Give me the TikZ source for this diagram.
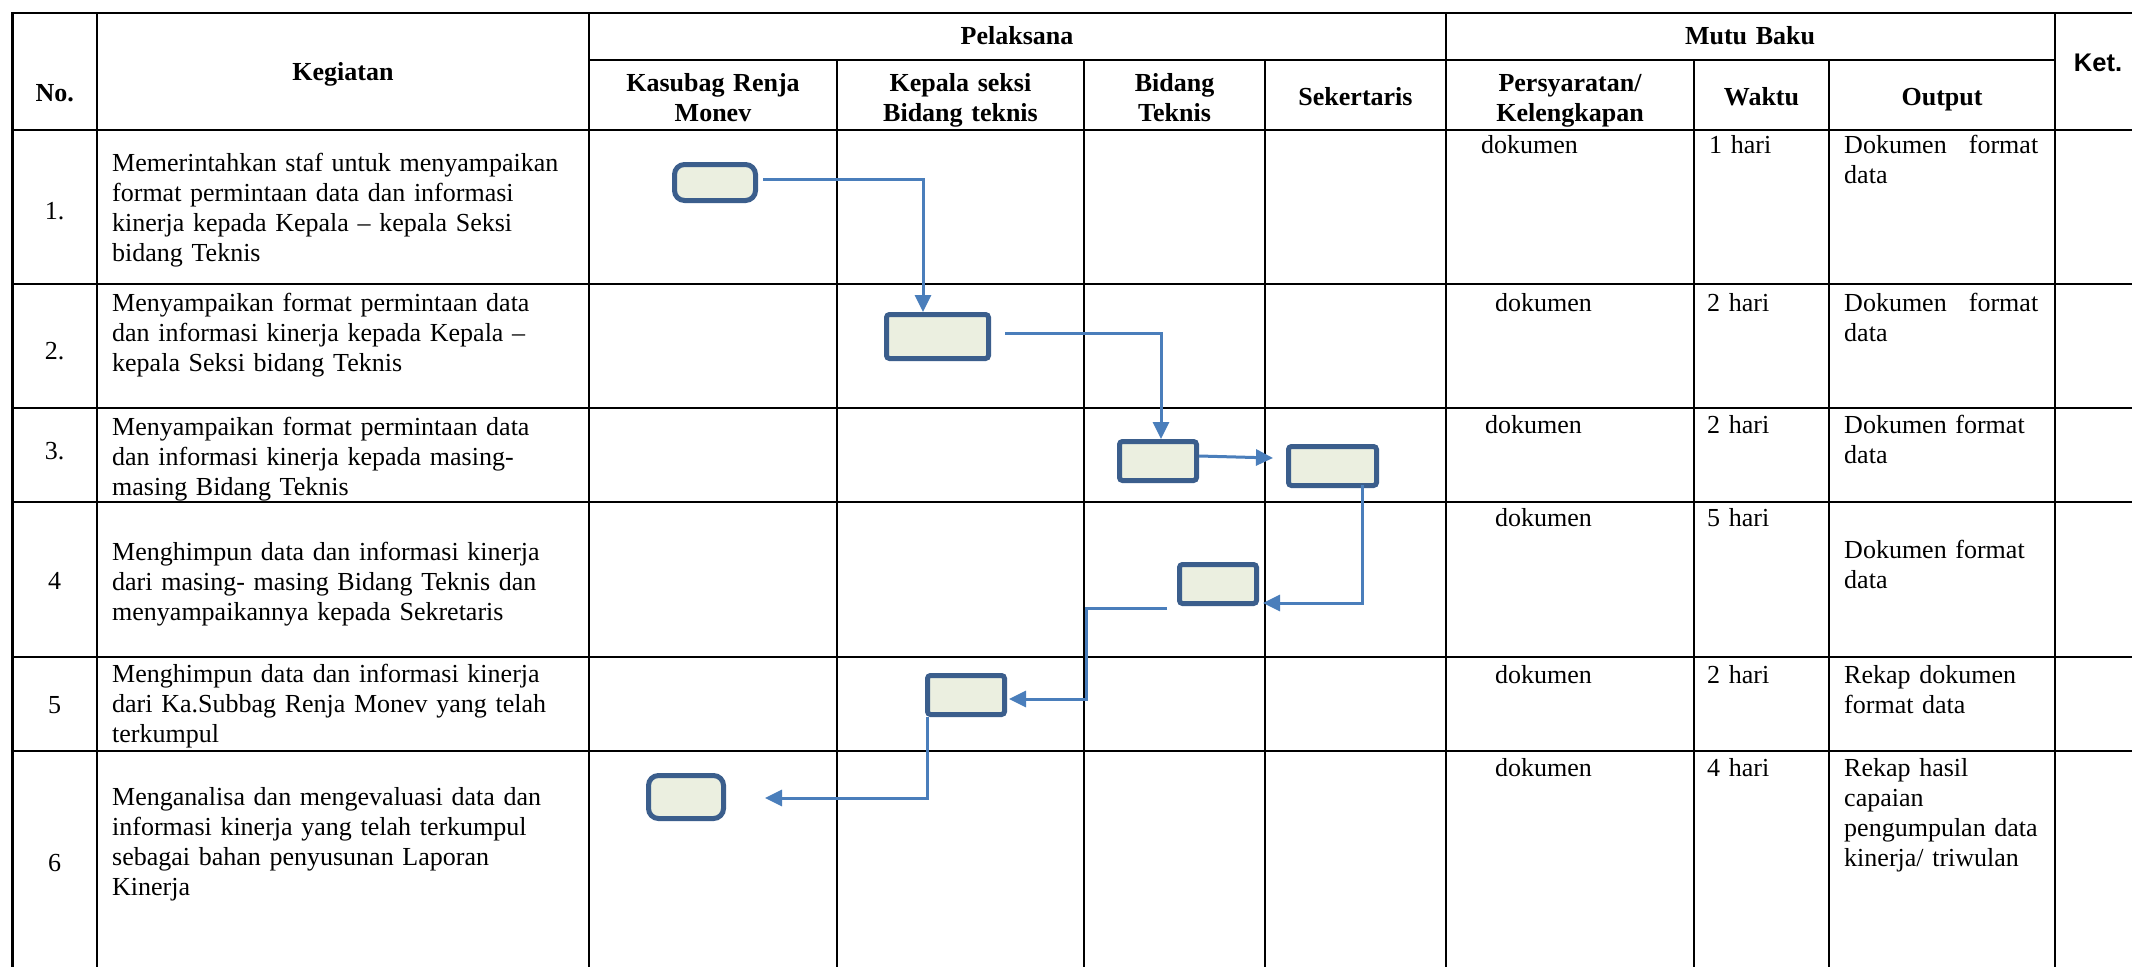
\documentclass[tikz,border=0pt]{standalone}
\usepackage{fontspec}
\setmainfont{Liberation Serif}
\newfontfamily\ketfont{Liberation Sans}
\usetikzlibrary{arrows.meta}
\definecolor{boxline}{HTML}{3B5E8C}
\definecolor{boxfill}{HTML}{EBEFE0}
\definecolor{flowc}{HTML}{4A7EBB}
\begin{document}
\begin{tikzpicture}[x=1pt,y=-1pt,
  every node/.style={font=\fontsize{26}{30}\selectfont, inner sep=0pt},
  gridline/.style={line width=2.4pt, black, line cap=rect},
  hdr/.style={font=\fontsize{26}{30}\selectfont\bfseries, anchor=base, align=center, text width=260pt},
  body/.style={anchor=base west, align=left, text width=480pt},
  num/.style={anchor=base},
  fbox/.style={draw=boxline, fill=boxfill, line width=5pt, rounded corners=3pt},
  rbox/.style={fbox, rounded corners=10pt},
  flow/.style={draw=flowc, line width=3pt, -{Triangle[length=17pt,width=16pt]}}
]
\useasboundingbox (0,0) rectangle (2132,966);
\fill[white] (0,0) rectangle (2132,966);

% grid
\draw[gridline] (12.5,13) -- (2132,13);
\draw[gridline] (589,60) -- (2055,60);
\draw[gridline] (12.5,130) -- (2132,130);
\foreach \yy in {284,408,502,657,751} \draw[gridline] (12.5,\yy) -- (2132,\yy);
\foreach \xx in {12.5,97,589,1446,2055} \draw[gridline] (\xx,13) -- (\xx,970);
\foreach \xx in {837,1084,1265,1694,1829} \draw[gridline] (\xx,60) -- (\xx,970);

% header
\node[hdr] (hpel) at (1017,45) {Pelaksana};
\node[hdr] (hmutu) at (1750,45) {Mutu Baku};
\node[hdr] (hno) at (54.7,101) {No.};
\node[hdr] (hkeg) at (343,80) {Kegiatan};
\node[hdr] (hkas) at (713,91) {Kasubag Renja\\Monev};
\node[hdr] (hkep) at (960.5,91) {Kepala seksi\\Bidang teknis};
\node[hdr] (hbid) at (1174.5,91) {Bidang\\Teknis};
\node[hdr] (hsek) at (1355.5,105) {Sekertaris};
\node[hdr] (hper) at (1570,91) {Persyaratan/\\Kelengkapan};
\node[hdr] (hwak) at (1761.5,105) {Waktu};
\node[hdr] (hout) at (1942,105) {Output};
\node[anchor=base, font=\ketfont\bfseries\fontsize{25.5}{30}\selectfont] (hket) at (2098,71) {Ket.};

% numbers
\node[num] (n1) at (54.7,219) {1.};
\node[num] (n2) at (54.7,359) {2.};
\node[num] (n3) at (54.7,459) {3.};
\node[num] (n4) at (54.7,589) {4};
\node[num] (n5) at (54.7,713) {5};
\node[num] (n6) at (54.7,871) {6};

% kegiatan
\node[body] (k1) at (112,171) {Memerintahkan staf untuk menyampaikan\\format permintaan data dan informasi\\kinerja kepada Kepala – kepala Seksi\\bidang Teknis};
\node[body] (k2) at (112,311) {Menyampaikan format permintaan data\\dan informasi kinerja kepada Kepala –\\kepala Seksi bidang Teknis};
\node[body] (k3) at (112,435) {Menyampaikan format permintaan data\\dan informasi kinerja kepada masing-\\masing Bidang Teknis};
\node[body] (k4) at (112,560) {Menghimpun data dan informasi kinerja\\dari masing- masing Bidang Teknis dan\\menyampaikannya kepada Sekretaris};
\node[body] (k5) at (112,682) {Menghimpun data dan informasi kinerja\\dari Ka.Subbag Renja Monev yang telah\\terkumpul};
\node[body] (k6) at (112,805) {Menganalisa dan mengevaluasi data dan\\informasi kinerja yang telah terkumpul\\sebagai bahan penyusunan Laporan\\Kinerja};

% mutu baku
\node[body] (p1) at (1481,153) {dokumen};
\node[body] (w1) at (1709,153) {1 hari};
\node[body] (o1) at (1844,153) {\hbox to 194pt{Dokumen\hfill format}\\data};
\node[body] (p2) at (1495,311) {dokumen};
\node[body] (w2) at (1707,311) {2 hari};
\node[body] (o2) at (1844,311) {\hbox to 194pt{Dokumen\hfill format}\\data};
\node[body] (p3) at (1485,433) {dokumen};
\node[body] (w3) at (1707,433) {2 hari};
\node[body] (o3) at (1844,433) {Dokumen format\\data};
\node[body] (p4) at (1495,526) {dokumen};
\node[body] (w4) at (1707,526) {5 hari};
\node[body] (o4) at (1844,558) {Dokumen format\\data};
\node[body] (p5) at (1495,683) {dokumen};
\node[body] (w5) at (1707,683) {2 hari};
\node[body] (o5) at (1844,683) {Rekap dokumen\\format data};
\node[body] (p6) at (1495,776) {dokumen};
\node[body] (w6) at (1707,776) {4 hari};
\node[body] (o6) at (1844,776) {Rekap hasil\\capaian\\pengumpulan data\\kinerja/ triwulan};

% flow boxes
\node[rbox, minimum width=81pt, minimum height=36pt] (b1) at (715,182.5) {};
\node[fbox, minimum width=102pt, minimum height=44pt] (b2) at (937.5,336.5) {};
\node[fbox, minimum width=77pt, minimum height=39pt] (b3) at (1158,461) {};
\node[fbox, minimum width=88pt, minimum height=39pt] (b4) at (1332.5,466) {};
\node[fbox, minimum width=77pt, minimum height=39pt] (b5) at (1218,584) {};
\node[fbox, minimum width=77pt, minimum height=39pt] (b6) at (966,695) {};
\node[rbox, minimum width=75pt, minimum height=43pt] (b7) at (686,797) {};

\coordinate (k5bend) at (1086,699);

% connectors
\draw[flow] ([xshift=5pt,yshift=3.5pt]b1.east) -| ([xshift=-14.5pt]b2.north);
\draw[flow] ([xshift=14pt,yshift=3.5pt]b2.east) -| ([xshift=3pt]b3.north);
\draw[flow] ([yshift=5pt]b3.east) -- ([xshift=-13pt,yshift=8pt]b4.west);
\draw[flow] ([xshift=29.5pt,yshift=3pt]b4.south) |- ([xshift=4pt,yshift=-19pt]b5.east);
\draw[flow] ([xshift=-10pt,yshift=-24pt]b5.west) -| (k5bend) -- ([xshift=2pt,yshift=-4pt]b6.east);
\draw[flow] ([xshift=2.5pt]b6.south west) |- ([xshift=39pt,yshift=-1pt]b7.east);
\end{tikzpicture}
\end{document}
